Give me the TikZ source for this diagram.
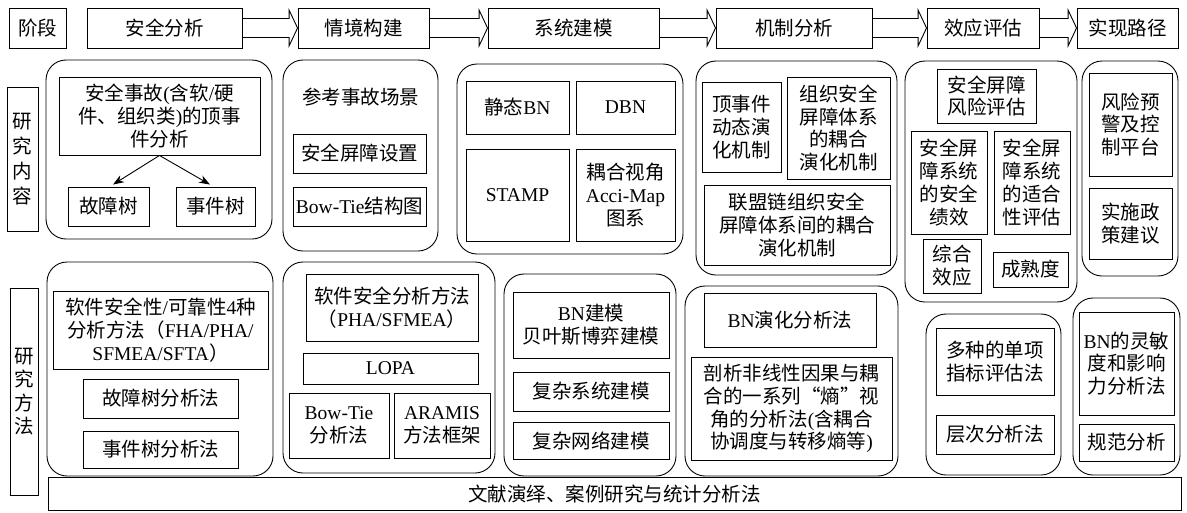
\documentclass[tikz,border=0pt]{standalone}
\usepackage{fontspec}
\setmainfont{Noto Sans CJK SC}
\newfontfamily\en{Liberation Serif}[Scale=1.0]
\usetikzlibrary{calc,arrows.meta}
\tikzset{
  ibox/.style={draw, line width=0.9pt, inner sep=0pt, align=center, font=\fontsize{19.5}{22.8}\selectfont},
  rbox/.style={draw, line width=0.9pt, rounded corners=20pt, inner sep=0pt},
  txt/.style={inner sep=0pt, align=center, font=\fontsize{19.5}{22.8}\selectfont},
  conn/.style={line width=0.9pt},
  tip/.style={line width=0.9pt, -{Stealth[length=11pt,width=8pt]}},
}
\newcommand\bx[7][]{\node[ibox,#1,minimum width={(#5-#3)*1pt},minimum height={(#6-#4)*1pt}] (#2) at ({(#3+#5)/2},{(#4+#6)/2}) {#7};}
\newcommand\gp[5]{\node[rbox,minimum width={(#4-#2)*1pt},minimum height={(#5-#3)*1pt}] (#1) at ({(#2+#4)/2},{(#3+#5)/2}) {};}
\newcommand\harr[2]{\draw[conn] ($(#1.east)+(0,-9.5)$) -- ($(#2.west)+(-8.5,-9.5)$) -- ($(#2.west)+(-8.5,-18)$) -- (#2.west) -- ($(#2.west)+(-8.5,18)$) -- ($(#2.west)+(-8.5,9.5)$) -- ($(#1.east)+(0,9.5)$);}
\begin{document}
\begin{tikzpicture}[x=1pt,y=-1pt]
\useasboundingbox (0,0) rectangle (1187,512);
% top row
\bx{p0}{9}{8}{66}{48}{阶段}
\bx{p1}{87}{8}{242}{48}{安全分析}
\bx{p2}{298}{8}{429}{48}{情境构建}
\bx{p3}{488}{8}{659}{48}{系统建模}
\bx{p4}{716}{8}{872}{48}{机制分析}
\bx{p5}{927}{8}{1039}{48}{效应评估}
\bx{p6}{1077}{8}{1178}{48}{实现路径}
\harr{p1}{p2}
\harr{p2}{p3}
\harr{p3}{p4}
\harr{p4}{p5}
\harr{p5}{p6}
% side labels
\bx[font=\fontsize{19.5}{25}\selectfont]{lc}{7}{87}{38}{231}{研\\究\\内\\容}
\bx[font=\fontsize{19.5}{23.5}\selectfont]{lm}{10}{288}{38}{495}{研\\究\\方\\法}
% groups
\gp{g1}{46}{60}{272}{239}
\gp{g2}{283}{60}{438}{251}
\gp{g3}{457}{64}{683}{254}
\gp{g4}{696}{61}{897}{275}
\gp{g5}{905}{61}{1077}{302}
\gp{g6}{1082}{61}{1178}{276}
\gp{g7}{47}{262}{273}{476}
\gp{g8}{283}{262}{495}{473}
\gp{g9}{504}{274}{676}{476}
\gp{g10}{685}{286}{898}{476}
\gp{g11}{926}{314}{1061}{475}
\gp{g12}{1073}{298}{1180}{475}
% group 1
\bx{t1}{59}{77}{260}{155}{安全事故{\en(}含软{\en/}硬\\件、组织类{\en)}的顶事\\件分析}
\bx{ft}{68}{187}{149}{226}{故障树}
\bx{et}{176}{187}{255}{226}{事件树}
\draw[tip] (t1.south) -- ($(ft.north)+(4.5,-2)$);
\draw[tip] (t1.south) -- ($(et.north)+(-5.5,-2)$);
% group 2
\node[txt] (scene) at (360.5,97) {参考事故场景};
\bx{bar}{293}{134}{426}{173}{安全屏障设置}
\bx{bt}{293}{187}{426}{226}{{\en Bow-Tie}结构图}
% group 3
\bx{sbn}{466}{81}{569}{134}{静态{\en BN}}
\bx{dbn}{576}{81}{675}{134}{{\en DBN}}
\bx{stamp}{466}{149}{569}{241}{{\en STAMP}}
\bx{acci}{576}{149}{675}{241}{耦合视角\\{\en Acci-Map}\\图系}
% group 4
\bx{m1}{702}{82}{781}{172}{顶事件\\动态演\\化机制}
\bx{m2}{787}{77}{890}{179}{组织安全\\屏障体系\\的耦合\\演化机制}
\bx{m3}{704}{185}{890}{265}{联盟链组织安全\\屏障体系间的耦合\\演化机制}
% group 5
\bx{e1}{937}{69}{1036}{123}{安全屏障\\风险评估}
\bx{e2}{911}{131}{987}{234}{安全屏\\障系统\\的安全\\绩效}
\bx{e3}{994}{131}{1070}{234}{安全屏\\障系统\\的适合\\性评估}
\bx{e4}{923}{239}{981}{293}{综合\\效应}
\bx{e5}{993}{252}{1068}{287}{成熟度}
% group 6
\bx{r1}{1089}{73}{1172}{176}{风险预\\警及控\\制平台}
\bx{r2}{1089}{188}{1172}{259}{实施政\\策建议}
% group 7
\bx{a1}{53}{291}{268}{369}{软件安全性{\en/}可靠性{\en 4}种\\分析方法（{\en FHA/PHA/}\\{\en SFMEA/SFTA}）}
\bx{a2}{83}{379}{238}{418}{故障树分析法}
\bx{a3}{83}{431}{238}{468}{事件树分析法}
% group 8
\bx{b1}{306}{274}{478}{341}{软件安全分析方法\\（{\en PHA/SFMEA}）}
\bx{b2}{303}{353}{478}{384}{{\en LOPA}}
\bx{b3}{289}{393}{389}{458}{{\en Bow-Tie}\\分析法}
\bx{b4}{394}{393}{490}{458}{{\en ARAMIS}\\方法框架}
% group 9
\bx{c1}{513}{292}{669}{358}{{\en BN}建模\\贝叶斯博弈建模}
\bx{c2}{513}{372}{669}{411}{复杂系统建模}
\bx{c3}{513}{422}{669}{459}{复杂网络建模}
% group 10
\bx{d1}{704}{293}{876}{347}{{\en BN}演化分析法}
\bx{d2}{691}{357}{892}{460}{剖析非线性因果与耦\\合的一系列“熵”视\\角的分析法{\en(}含耦合\\协调度与转移熵等{\en)}}
% group 11
\bx{f1}{936}{328}{1054}{395}{多种的单项\\指标评估法}
\bx{f2}{936}{415}{1054}{454}{层次分析法}
% group 12
\bx{h1}{1079}{312}{1174}{415}{{\en BN}的灵敏\\度和影响\\力分析法}
\bx{h2}{1079}{424}{1174}{461}{规范分析}
% bottom band
\bx{lit}{48}{477}{1181}{510.5}{文献演绎、案例研究与统计分析法}
\end{tikzpicture}
\end{document}
